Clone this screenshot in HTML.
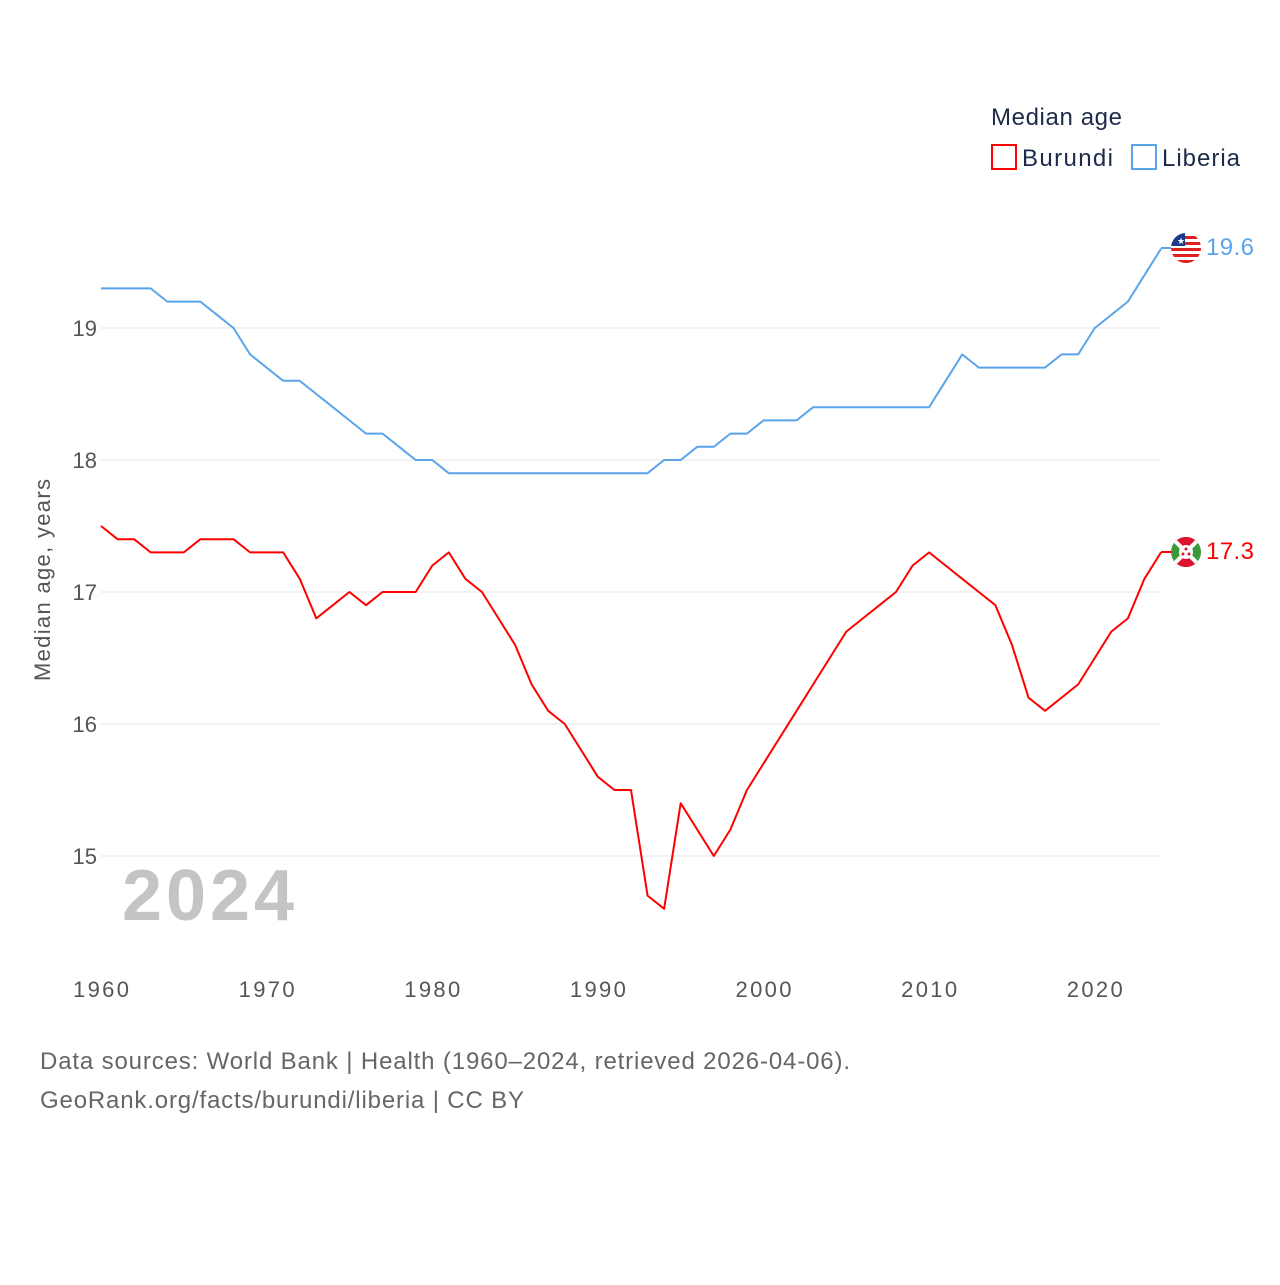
<!DOCTYPE html>
<html><head><meta charset="utf-8"><style>
body{margin:0;background:#fff;width:1280px;height:1280px;overflow:hidden;font-family:"Liberation Sans",sans-serif;}
</style></head><body>
<svg width="1280" height="1280" style="font-family:'Liberation Sans',sans-serif">
<g id="grid"></g>
<g id="yticks"></g>
<g id="xticks"></g>
<text x="50" y="580" transform="rotate(-90 50 580)" text-anchor="middle" font-size="22" fill="#555" textLength="202">Median age, years</text>
<text x="122" y="920" font-size="72" font-weight="bold" fill="#c4c4c4" textLength="172">2024</text>
<g id="series"></g>
<g>
<text x="991" y="125" font-size="24" fill="#1d2b4a" textLength="131">Median age</text>
<g><rect x="992" y="145" width="24" height="24" fill="none" stroke="#f00" stroke-width="2"/><text x="1022" y="166" font-size="24" fill="#1d2b4a" textLength="91">Burundi</text></g>
<g><rect x="1132" y="145" width="24" height="24" fill="none" stroke="#5ba4ea" stroke-width="2"/><text x="1162" y="166" font-size="24" fill="#1d2b4a" textLength="78">Liberia</text></g>
</g>
<line x1="1161" y1="248" x2="1175" y2="248" stroke="#5ba4ea" stroke-width="2"/>
<line x1="1161" y1="552" x2="1175" y2="552" stroke="#f00" stroke-width="2"/>
<g>
<clipPath id="c1"><circle cx="1186" cy="248" r="15"/></clipPath>
<g clip-path="url(#c1)"><rect x="1170" y="232" width="32" height="32" fill="#fff"/>
<rect x="1170" y="236" width="32" height="3" fill="#d22"/><rect x="1170" y="242" width="32" height="3" fill="#d22"/><rect x="1170" y="248" width="32" height="3" fill="#d22"/><rect x="1170" y="254" width="32" height="3" fill="#d22"/><rect x="1170" y="260" width="32" height="3" fill="#d22"/>
<rect x="1170" y="232" width="15" height="14" fill="#1a3a8a"/></g>
<text x="1177" y="244" font-size="9" fill="#fff">★</text></g>
<text x="1206" y="255" font-size="24" fill="#5ba4ea" textLength="48">19.6</text>
<g>
<clipPath id="c2"><circle cx="1186" cy="552" r="15"/></clipPath>
<g clip-path="url(#c2)"><rect x="1170" y="536" width="32" height="32" fill="#3a9a3a"/>
<polygon points="1170,536 1202,536 1186,552" fill="#e0102f"/><polygon points="1170,568 1202,568 1186,552" fill="#e0102f"/>
<line x1="1170" y1="536" x2="1202" y2="568" stroke="#fff" stroke-width="4"/><line x1="1202" y1="536" x2="1170" y2="568" stroke="#fff" stroke-width="4"/>
<circle cx="1186" cy="552" r="7" fill="#fff"/><circle cx="1186" cy="549" r="1.5" fill="#e0102f"/><circle cx="1183" cy="554" r="1.5" fill="#e0102f"/><circle cx="1189" cy="554" r="1.5" fill="#e0102f"/></g></g>
<text x="1206" y="559" font-size="24" fill="#f00" textLength="48">17.3</text>
<text x="40" y="1069" font-size="24" fill="#666" textLength="810">Data sources: World Bank | Health (1960–2024, retrieved 2026-04-06).</text>
<text x="40" y="1108" font-size="24" fill="#666" textLength="484">GeoRank.org/facts/burundi/liberia | CC BY</text>
</svg>
<script>
const years=[];for(let y=1960;y<=2024;y++)years.push(y);
const liberia=[19.3,19.3,19.3,19.3,19.2,19.2,19.2,19.1,19.0,18.8,18.7,18.6,18.6,18.5,18.4,18.3,18.2,18.2,18.1,18.0,18.0,17.9,17.9,17.9,17.9,17.9,17.9,17.9,17.9,17.9,17.9,17.9,17.9,17.9,18.0,18.0,18.1,18.1,18.2,18.2,18.3,18.3,18.3,18.4,18.4,18.4,18.4,18.4,18.4,18.4,18.4,18.6,18.8,18.7,18.7,18.7,18.7,18.7,18.8,18.8,19.0,19.1,19.2,19.4,19.6];
const burundi=[17.5,17.4,17.4,17.3,17.3,17.3,17.4,17.4,17.4,17.3,17.3,17.3,17.1,16.8,16.9,17.0,16.9,17.0,17.0,17.0,17.2,17.3,17.1,17.0,16.8,16.6,16.3,16.1,16.0,15.8,15.6,15.5,15.5,14.7,14.6,15.4,15.2,15.0,15.2,15.5,15.7,15.9,16.1,16.3,16.5,16.7,16.8,16.9,17.0,17.2,17.3,17.2,17.1,17.0,16.9,16.6,16.2,16.1,16.2,16.3,16.5,16.7,16.8,17.1,17.3];
const yTicks=[15,16,17,18,19];
const xTicks=[1960,1970,1980,1990,2000,2010,2020];
const X=y=>101+(y-1960)*1060/64;
const Y=v=>328+(19-v)*132;
const NS='http://www.w3.org/2000/svg';
function mk(tag,attrs,parent){const e=document.createElementNS(NS,tag);for(const k in attrs)e.setAttribute(k,attrs[k]);parent.appendChild(e);return e;}
const grid=document.getElementById('grid'),yt=document.getElementById('yticks'),xt=document.getElementById('xticks'),ser=document.getElementById('series');
yTicks.forEach(v=>{
 const l=mk('line',{x1:101,x2:1161,y1:Y(v),y2:Y(v),stroke:'#e6e6e6','stroke-width':1},grid);
 
 
 const t=mk('text',{x:97,y:Y(v)+8,'text-anchor':'end','font-size':22,fill:'#555'},yt);t.textContent=v;
 
 
});
xTicks.forEach(v=>{
 const t=mk('text',{x:X(v),y:997,'text-anchor':'middle','font-size':22,fill:'#555',textLength:56},xt);t.textContent=v;
 
 
});
function line(data,color,name){
 const p=mk('polyline',{points:data.map((v,i)=>X(years[i])+','+Y(v)).join(' '),fill:'none',stroke:color,'stroke-width':2,'stroke-linejoin':'round'},ser);
 
 
}
line(liberia,'#5ba4ea','liberia-line');
line(burundi,'#f00','burundi-line');
</script>
</body></html>
